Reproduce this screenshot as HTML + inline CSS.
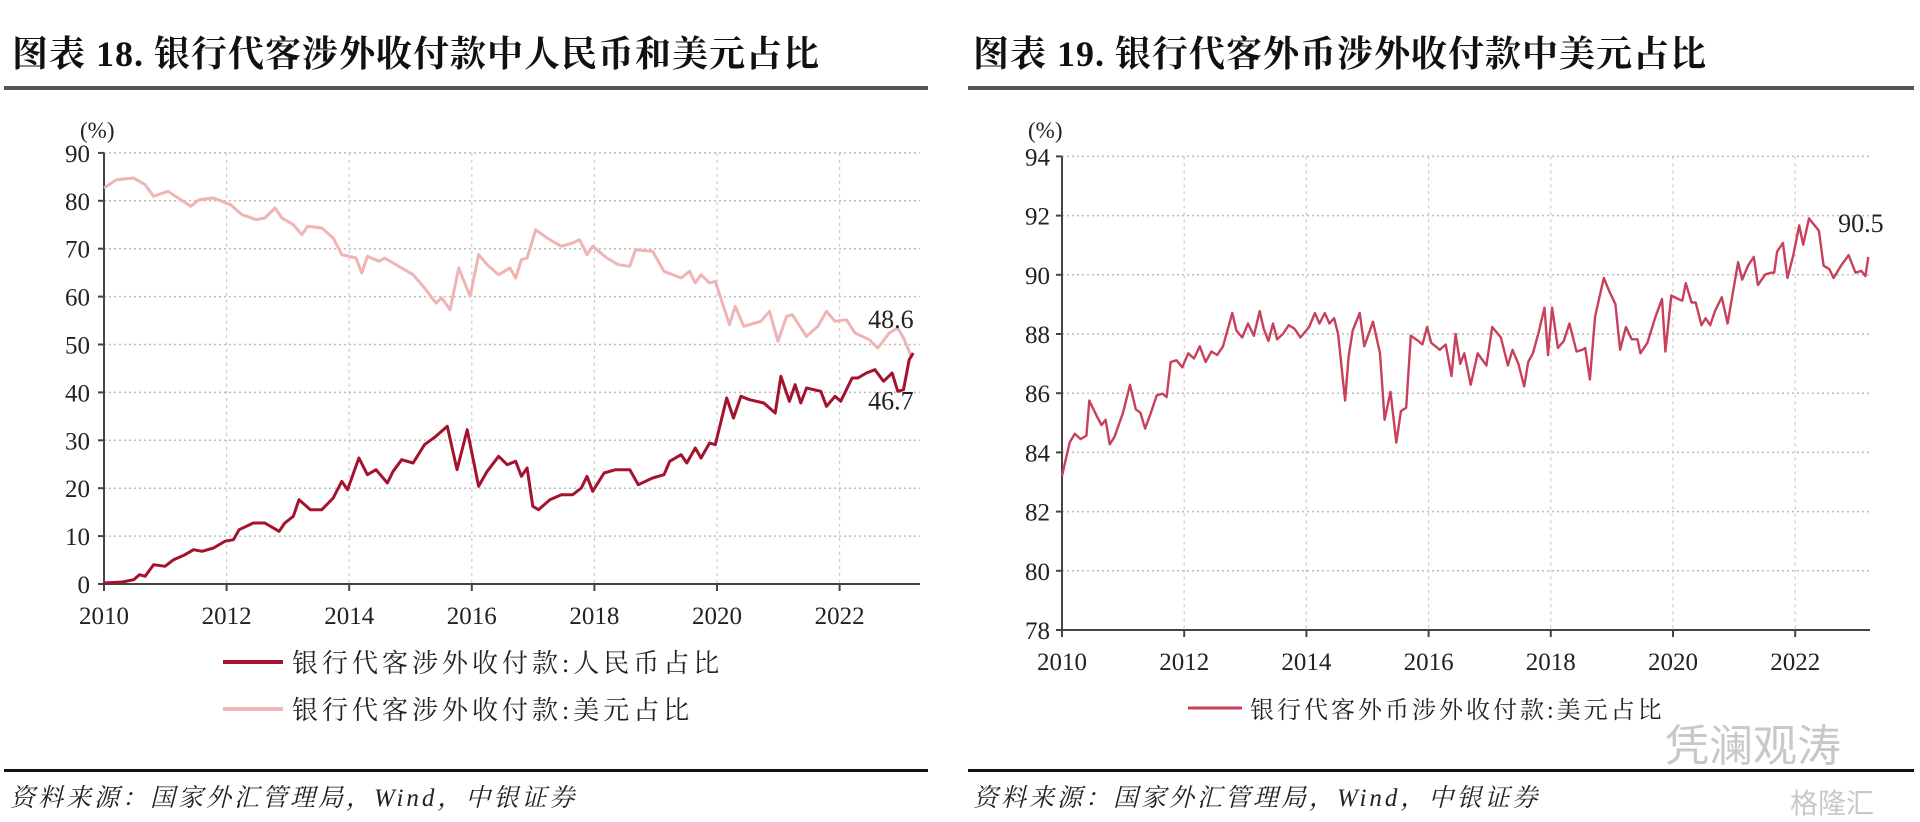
<!DOCTYPE html>
<html><head><meta charset="utf-8">
<style>
html,body{margin:0;padding:0;background:#fff;}
body{width:1920px;height:821px;overflow:hidden;position:relative;font-family:"Liberation Serif","Noto Serif CJK SC",serif;}
.t{position:absolute;white-space:nowrap;}
.title{font-size:36px;font-weight:bold;color:#111;top:26px;font-family:"Liberation Serif","Noto Serif CJK SC",serif;letter-spacing:1px;}
.src{font-size:25px;font-style:italic;color:#222;top:778px;letter-spacing:3px;}
</style></head><body>
<div class="t title" style="left:12px;">图表 18. 银行代客涉外收付款中人民币和美元占比</div>
<div class="t title" style="left:973px;">图表 19. 银行代客外币涉外收付款中美元占比</div>
<div style="position:absolute;left:4px;top:86px;width:924px;height:4px;background:#555;"></div>
<div style="position:absolute;left:968px;top:86px;width:946px;height:4px;background:#555;"></div>
<div style="position:absolute;left:4px;top:769px;width:924px;height:3px;background:#111;"></div>
<div style="position:absolute;left:968px;top:769px;width:946px;height:3px;background:#111;"></div>
<div class="t src" style="left:10px;">资料来源：国家外汇管理局，Wind，中银证券</div>
<div class="t src" style="left:973px;">资料来源：国家外汇管理局，Wind，中银证券</div>
<div class="t" style="left:1665px;top:710px;font-size:44px;color:#c8c8c8;font-family:'Noto Sans CJK SC',sans-serif;">凭澜观涛</div>
<div class="t" style="left:1790px;top:782px;font-size:28px;color:#c8c8c8;font-family:'Noto Sans CJK SC',sans-serif;">格隆汇</div>
<svg id="s" width="1920" height="821" style="position:absolute;left:0;top:0;" xmlns="http://www.w3.org/2000/svg"></svg>
<script>
var S=document.getElementById('s'),NS='http://www.w3.org/2000/svg';
function el(n,a,txt){var e=document.createElementNS(NS,n);for(var k in a)e.setAttribute(k,a[k]);if(txt!==undefined)e.textContent=txt;S.appendChild(e);return e;}
var L={x0:104,px:61.3,y0:584,py:4.79,right:920};
function lx(y){return L.x0+(y-2010)*L.px;} function ly(v){return L.y0-v*L.py;}
for(var v=10;v<=90;v+=10){el('line',{x1:L.x0,x2:L.right,y1:ly(v),y2:ly(v),stroke:'#bbb','stroke-width':1.5,'stroke-dasharray':'2,3'});}
for(var y=2012;y<=2022;y+=2){el('line',{x1:lx(y),x2:lx(y),y1:ly(90),y2:L.y0,stroke:'#ccc','stroke-width':1.2,'stroke-dasharray':'3,4'});}
el('line',{x1:L.x0,x2:L.x0,y1:ly(90),y2:L.y0,stroke:'#444','stroke-width':2});
el('line',{x1:L.x0-2,x2:L.right,y1:L.y0,y2:L.y0,stroke:'#444','stroke-width':2});
for(var v=0;v<=90;v+=10){el('line',{x1:L.x0-6,x2:L.x0,y1:ly(v),y2:ly(v),stroke:'#444','stroke-width':2});
 el('text',{x:L.x0-14,y:ly(v)+9,'font-size':25,'text-anchor':'end',fill:'#222'},''+v);}
for(var y=2010;y<=2022;y+=2){el('line',{x1:lx(y),x2:lx(y),y1:L.y0,y2:L.y0+7,stroke:'#444','stroke-width':2});
 el('text',{x:lx(y),y:L.y0+40,'font-size':25,'text-anchor':'middle',fill:'#222'},''+y);}
el('text',{x:L.x0-24,y:138,'font-size':23,fill:'#222'},'(%)');
function zpath(pts,fx,fy){return pts.map(function(p,i){return (i?'L':'M')+fx(p[0]).toFixed(1)+','+fy(p[1]).toFixed(1);}).join('');}
var usd=[[78,230],[100,205],[130,200],[150,220],[165,255],[190,240],[230,285],[245,265],[270,260],[300,280],[320,310],[345,325],[360,320],[378,290],[390,320],[410,340],[425,370],[435,345],[460,350],[480,380],[495,430],[520,440],[530,485],[540,435],[560,450],[570,440],[600,470],[620,490],[640,530],[660,575],[670,560],[685,595],[700,470],[720,555],[735,430],[750,460],[770,490],[790,470],[800,500],[810,445],[820,440],[835,355],[855,380],[880,405],[900,395],[912,385],[925,430],[935,405],[960,440],[980,460],[1000,465],[1010,415],[1040,420],[1060,480],[1090,500],[1105,480],[1115,515],[1125,490],[1140,515],[1150,510],[1175,640],[1185,585],[1200,645],[1230,630],[1245,600],[1260,690],[1275,615],[1285,610],[1310,675],[1330,645],[1345,600],[1360,630],[1380,625],[1395,665],[1420,685],[1435,710],[1455,665],[1470,650],[1480,680],[1495,740]];
var rmb=[[78,1415],[110,1412],[130,1405],[140,1390],[150,1395],[165,1360],[185,1365],[200,1345],[220,1330],[235,1315],[250,1320],[270,1310],[290,1290],[305,1285],[315,1255],[340,1235],[360,1235],[385,1260],[395,1235],[410,1215],[420,1165],[440,1195],[460,1195],[480,1160],[495,1110],[505,1135],[525,1040],[540,1090],[555,1075],[575,1115],[585,1080],[600,1045],[620,1055],[640,1000],[660,975],[680,945],[697,1075],[715,955],[735,1125],[750,1080],[770,1035],[785,1060],[800,1050],[810,1095],[820,1070],[830,1185],[840,1195],[860,1165],[880,1150],[900,1150],[915,1130],[925,1095],[935,1140],[955,1085],[975,1075],[1000,1075],[1015,1120],[1040,1100],[1060,1090],[1070,1050],[1090,1030],[1100,1055],[1115,1010],[1125,1040],[1140,995],[1150,1000],[1170,860],[1182,920],[1195,855],[1210,865],[1235,875],[1255,905],[1265,795],[1280,870],[1290,820],[1300,875],[1310,830],[1335,840],[1345,885],[1360,855],[1370,870],[1390,800],[1400,800],[1415,785],[1430,775],[1445,810],[1460,785],[1470,840],[1480,835],[1490,745],[1497,725]];
var fxL=function(x){return lx(2010+(x-78)/107.5);}, fyL=function(y){return ly((1418-y)/14.37);};
el('path',{d:zpath(usd,fxL,fyL),fill:'none',stroke:'#f0b4b4','stroke-width':3,'stroke-linejoin':'round'});
el('path',{d:zpath(rmb,fxL,fyL),fill:'none',stroke:'#a5122e','stroke-width':3,'stroke-linejoin':'round'});
el('text',{x:fxL(1418),y:fyL(620)+10,'font-size':26,fill:'#222'},'48.6');
el('text',{x:fxL(1418),y:fyL(865)+10,'font-size':26,fill:'#222'},'46.7');
el('line',{x1:223,x2:283,y1:662,y2:662,stroke:'#a5122e','stroke-width':4});
el('line',{x1:223,x2:283,y1:709,y2:709,stroke:'#f0b4b4','stroke-width':4});
el('text',{x:292,y:672,'font-size':26,fill:'#222','letter-spacing':4},'银行代客涉外收付款:人民币占比');
el('text',{x:292,y:719,'font-size':26,fill:'#222','letter-spacing':4},'银行代客涉外收付款:美元占比');
var R={x0:1062,px:61.1,y0:630,py:29.6,right:1870};
function rx(y){return R.x0+(y-2010)*R.px;} function ry(v){return R.y0-(v-78)*R.py;}
for(var v=80;v<=94;v+=2){el('line',{x1:R.x0,x2:R.right,y1:ry(v),y2:ry(v),stroke:'#bbb','stroke-width':1.5,'stroke-dasharray':'2,3'});}
for(var y=2012;y<=2022;y+=2){el('line',{x1:rx(y),x2:rx(y),y1:ry(94),y2:R.y0,stroke:'#ccc','stroke-width':1.2,'stroke-dasharray':'3,4'});}
el('line',{x1:R.x0,x2:R.x0,y1:ry(94),y2:R.y0,stroke:'#444','stroke-width':2});
el('line',{x1:R.x0-2,x2:R.right,y1:R.y0,y2:R.y0,stroke:'#444','stroke-width':2});
for(var v=78;v<=94;v+=2){el('line',{x1:R.x0-6,x2:R.x0,y1:ry(v),y2:ry(v),stroke:'#444','stroke-width':2});
 el('text',{x:R.x0-12,y:ry(v)+9,'font-size':25,'text-anchor':'end',fill:'#222'},''+v);}
for(var y=2010;y<=2022;y+=2){el('line',{x1:rx(y),x2:rx(y),y1:R.y0,y2:R.y0+7,stroke:'#444','stroke-width':2});
 el('text',{x:rx(y),y:R.y0+40,'font-size':25,'text-anchor':'middle',fill:'#222'},''+y);}
el('text',{x:R.x0-34,y:138,'font-size':23,fill:'#222'},'(%)');
var fx=[[105,1050],[118,955],[127,930],[137,945],[147,935],[152,835],[165,880],[173,905],[180,890],[187,960],[195,940],[210,870],[222,790],[232,860],[240,870],[248,915],[258,870],[268,820],[278,815],[285,825],[292,725],[302,720],[312,740],[322,700],[332,715],[342,680],[352,725],[362,695],[372,705],[382,680],[398,585],[405,635],[415,655],[425,615],[435,650],[445,580],[452,630],[460,665],[468,615],[475,660],[485,645],[495,620],[505,630],[515,655],[530,625],[540,585],[548,615],[557,585],[565,615],[573,600],[580,645],[592,835],[598,710],[605,635],[617,585],[625,680],[640,610],[652,700],[660,890],[670,810],[680,955],[688,865],[697,855],[705,650],[718,665],[725,675],[733,625],[740,670],[755,690],[765,675],[775,765],[782,645],[790,730],[797,700],[808,790],[820,700],[835,735],[845,625],[860,655],[872,735],[880,690],[890,730],[900,795],[907,725],[915,700],[925,640],[935,570],[941,705],[948,570],[958,685],[968,665],[978,615],[990,695],[1000,690],[1005,685],[1013,775],[1022,595],[1037,485],[1047,525],[1057,560],[1065,690],[1075,625],[1085,660],[1095,660],[1100,700],[1112,670],[1125,600],[1137,545],[1143,695],[1153,535],[1165,545],[1172,550],[1178,500],[1188,555],[1195,555],[1205,620],[1212,600],[1220,620],[1228,580],[1240,540],[1250,615],[1268,440],[1275,490],[1285,450],[1295,425],[1302,505],[1315,475],[1325,470],[1330,470],[1335,410],[1345,385],[1353,485],[1363,420],[1373,335],[1380,390],[1390,315],[1407,350],[1415,450],[1425,460],[1432,485],[1445,450],[1458,420],[1470,470],[1480,465],[1487,480],[1492,425]];
var fxR=function(x){return rx(2010+(x-105)/105.1);}, fyR=function(y){return ry(94-(y-138)/84.5);};
el('path',{d:zpath(fx,fxR,fyR),fill:'none',stroke:'#c8405a','stroke-width':2.4,'stroke-linejoin':'round'});
el('text',{x:fxR(1440),y:fyR(325)+10,'font-size':26,fill:'#222'},'90.5');
el('line',{x1:1188,x2:1242,y1:708,y2:708,stroke:'#c8405a','stroke-width':3});
el('text',{x:1250,y:718,'font-size':24,fill:'#222','letter-spacing':3},'银行代客外币涉外收付款:美元占比');
</script>
</body></html>
